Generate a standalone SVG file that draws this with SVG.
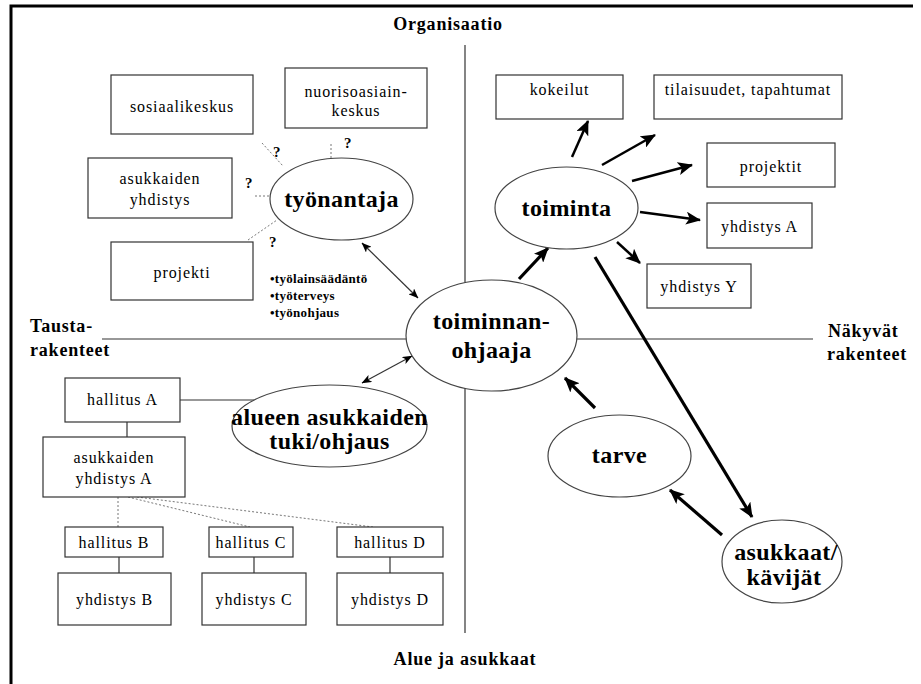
<svg xmlns="http://www.w3.org/2000/svg" width="921" height="684" viewBox="0 0 921 684">
<style>
text{font-family:"Liberation Serif","Times New Roman",serif;fill:#000}
.box{fill:#fff;stroke:#333;stroke-width:1.2}
.ell{fill:#fff;stroke:#444;stroke-width:1.2}
.bt{font-size:16px;letter-spacing:0.9px;text-anchor:middle}
.hd{font-size:18px;font-weight:bold;letter-spacing:0.8px}
.et{font-size:24px;font-weight:bold;text-anchor:middle;letter-spacing:0.4px}
.q{font-size:15px;font-weight:bold}
.bl{font-size:13px;font-weight:bold;letter-spacing:0.3px}
.axis{stroke:#333;stroke-width:1.2;fill:none}
.dot{stroke:#777;stroke-width:1;stroke-dasharray:2 2;fill:none}
.thin{stroke:#333;stroke-width:1.2;fill:none}
.thick{stroke:#000;stroke-width:2.5;fill:none}
.heavy{stroke:#000;stroke-width:3.2;fill:none}
</style>
<defs>
<marker id="ah" markerUnits="userSpaceOnUse" markerWidth="15" markerHeight="13" viewBox="0 0 15 13" refX="14" refY="6.5" orient="auto">
<path d="M0,0 L15,6.5 L0,13 L3.5,6.5 z" fill="#000"/>
</marker>
<marker id="as" markerUnits="userSpaceOnUse" markerWidth="10" markerHeight="8" viewBox="0 0 10 8" refX="9.5" refY="4" orient="auto-start-reverse">
<path d="M0,0 L10,4 L0,8 L2.5,4 z" fill="#000"/>
</marker>
</defs>
<rect x="0" y="0" width="921" height="684" fill="#fff"/>
<path d="M11,684 L11,6 L913,6" fill="none" stroke="#000" stroke-width="3"/>

<g id="axes">
<line class="axis" x1="465" y1="45" x2="465" y2="633"/>
<line class="axis" x1="102" y1="339" x2="813" y2="339"/>
<text class="hd" x="448" y="30" text-anchor="middle">Organisaatio</text>
<text class="hd" x="30" y="332">Tausta-</text>
<text class="hd" x="30" y="356">rakenteet</text>
<text class="hd" x="828" y="337">Näkyvät</text>
<text class="hd" x="827" y="360">rakenteet</text>
<text class="hd" x="465" y="665" text-anchor="middle">Alue ja asukkaat</text>
</g>

<g id="connectors">
<line class="dot" x1="262" y1="143" x2="283" y2="166"/>
<line class="dot" x1="331" y1="144" x2="331" y2="159" stroke="#333"/>
<line class="dot" x1="255" y1="196" x2="270" y2="196"/>
<line class="dot" x1="248" y1="240" x2="277" y2="220"/>
<line class="thin" x1="362" y1="243" x2="418" y2="298" marker-start="url(#as)" marker-end="url(#as)"/>
<line class="thin" x1="362" y1="383" x2="412" y2="356" marker-start="url(#as)" marker-end="url(#as)"/>
<line class="thin" x1="180" y1="400" x2="260" y2="400"/>
<line class="thin" x1="127" y1="422" x2="127" y2="437"/>
<line class="dot" x1="118" y1="497" x2="118" y2="527"/>
<line class="dot" x1="128" y1="497" x2="250" y2="527"/>
<line class="dot" x1="137" y1="497" x2="373" y2="527"/>
<line class="thin" x1="119" y1="557" x2="119" y2="573"/>
<line class="thin" x1="254" y1="557" x2="254" y2="573"/>
<line class="thin" x1="390" y1="557" x2="390" y2="573"/>
<line class="thick" x1="572" y1="157" x2="588" y2="121" marker-end="url(#ah)"/>
<line class="thick" x1="602" y1="165" x2="655" y2="135" marker-end="url(#ah)"/>
<line class="thick" x1="632" y1="181" x2="692" y2="165" marker-end="url(#ah)"/>
<line class="thick" x1="640" y1="212" x2="700" y2="220" marker-end="url(#ah)"/>
<line class="thick" x1="617" y1="242" x2="640" y2="263" marker-end="url(#ah)"/>
<line class="heavy" x1="595" y1="257" x2="752" y2="517" marker-end="url(#ah)"/>
<line class="heavy" x1="519" y1="279" x2="548" y2="248" marker-end="url(#ah)"/>
<line class="heavy" x1="595" y1="408" x2="565" y2="378" marker-end="url(#ah)"/>
<line class="heavy" x1="722" y1="535" x2="670" y2="490" marker-end="url(#ah)"/>
</g>

<g id="sosiaalikeskus"><rect class="box" x="111" y="75" width="142" height="59"/><text class="bt" x="182" y="112">sosiaalikeskus</text></g>
<g id="nuorisoasiainkeskus"><rect class="box" x="285" y="68" width="142" height="60"/><text class="bt" x="356" y="97">nuorisoasiain-</text><text class="bt" x="356" y="116">keskus</text></g>
<g id="asukkaiden-yhdistys"><rect class="box" x="88" y="158" width="144" height="60"/><text class="bt" x="160" y="184">asukkaiden</text><text class="bt" x="160" y="205">yhdistys</text></g>
<g id="projekti"><rect class="box" x="111" y="242" width="142" height="58"/><text class="bt" x="182" y="278">projekti</text></g>
<g id="questions">
<text class="q" x="273" y="157">?</text>
<text class="q" x="344" y="148">?</text>
<text class="q" x="245" y="188">?</text>
<text class="q" x="269" y="247">?</text>
</g>
<g id="tyonantaja"><ellipse class="ell" cx="341.5" cy="199" rx="71.5" ry="41"/><text class="et" x="341.5" y="207">työnantaja</text></g>
<g id="bullets">
<text class="bl" x="270" y="283">•työlainsäädäntö</text>
<text class="bl" x="270" y="300">•työterveys</text>
<text class="bl" x="270" y="317">•työnohjaus</text>
</g>
<g id="toiminnanohjaaja"><ellipse class="ell" cx="491.5" cy="335.5" rx="85.5" ry="55.5"/><text class="et" x="491.5" y="329">toiminnan-</text><text class="et" x="491.5" y="358">ohjaaja</text></g>
<g id="toiminta"><ellipse class="ell" cx="566.5" cy="208" rx="71.5" ry="41"/><text class="et" x="566.5" y="216">toiminta</text></g>
<g id="kokeilut"><rect class="box" x="496" y="75" width="127" height="44"/><text class="bt" x="559.5" y="95">kokeilut</text></g>
<g id="tilaisuudet"><rect class="box" x="654" y="75" width="188" height="44"/><text class="bt" x="748" y="95">tilaisuudet, tapahtumat</text></g>
<g id="projektit"><rect class="box" x="707" y="143" width="128" height="44"/><text class="bt" x="771" y="172">projektit</text></g>
<g id="yhdistys-A"><rect class="box" x="707" y="203" width="105" height="45"/><text class="bt" x="759.5" y="232">yhdistys A</text></g>
<g id="yhdistys-Y"><rect class="box" x="647" y="264" width="104" height="44"/><text class="bt" x="699" y="292">yhdistys Y</text></g>
<g id="tarve"><ellipse class="ell" cx="619.5" cy="456" rx="71.5" ry="41"/><text class="et" x="619.5" y="463">tarve</text></g>
<g id="asukkaat"><ellipse class="ell" cx="782" cy="561.5" rx="60" ry="41.5"/><text class="et" x="786" y="560">asukkaat/</text><text class="et" x="784" y="585">kävijät</text></g>
<g id="alueen"><ellipse class="ell" cx="329.5" cy="426" rx="97.5" ry="41"/><text class="et" x="329.5" y="425">alueen asukkaiden</text><text class="et" x="329.5" y="449">tuki/ohjaus</text></g>
<g id="hallitus-A"><rect class="box" x="65" y="378" width="115" height="44"/><text class="bt" x="122.5" y="405">hallitus A</text></g>
<g id="asukkaiden-yhdistys-A"><rect class="box" x="43" y="437" width="142" height="60"/><text class="bt" x="114" y="463">asukkaiden</text><text class="bt" x="114" y="484">yhdistys A</text></g>
<g id="hallitus-B"><rect class="box" x="65" y="527" width="98" height="30"/><text class="bt" x="114" y="548">hallitus B</text></g>
<g id="hallitus-C"><rect class="box" x="209" y="527" width="84" height="30"/><text class="bt" x="251" y="548">hallitus C</text></g>
<g id="hallitus-D"><rect class="box" x="337" y="527" width="106" height="30"/><text class="bt" x="390" y="548">hallitus D</text></g>
<g id="yhdistys-B"><rect class="box" x="58" y="573" width="113" height="52"/><text class="bt" x="114.5" y="605">yhdistys B</text></g>
<g id="yhdistys-C"><rect class="box" x="202" y="573" width="104" height="52"/><text class="bt" x="254" y="605">yhdistys C</text></g>
<g id="yhdistys-D"><rect class="box" x="337" y="573" width="106" height="52"/><text class="bt" x="390" y="605">yhdistys D</text></g>
</svg>
